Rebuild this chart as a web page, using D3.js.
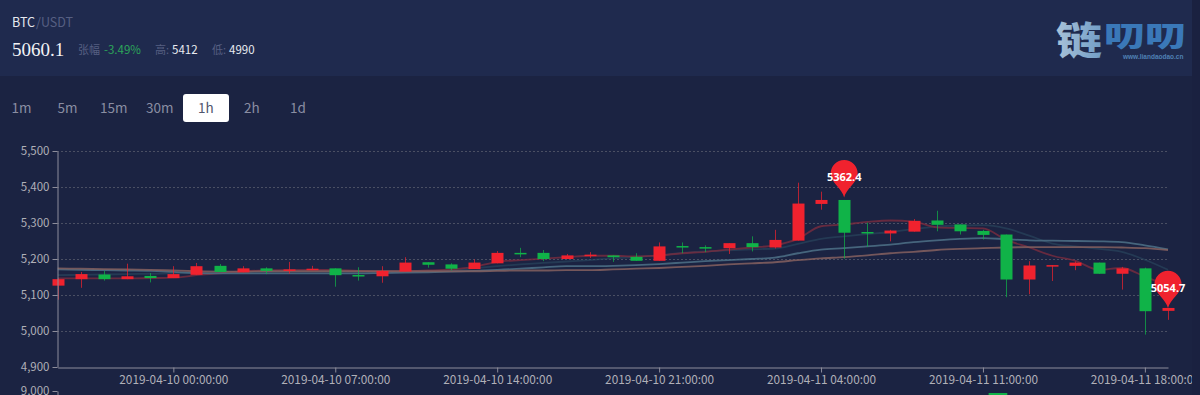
<!DOCTYPE html>
<html>
<head>
<meta charset="utf-8">
<script src="https://cdn.jsdelivr.net/npm/d3@7"></script>
<style>
  html, body { margin: 0; padding: 0; background: #1b2342; overflow: hidden; }
  svg { display: block; }
  text { font-family: "Noto Sans CJK SC", "Noto Sans", sans-serif; }
</style>
</head>
<body>
<div id="chart"></div>
<script>
var hours = [
  "04-09 19", "04-09 20", "04-09 21", "04-09 22", "04-09 23",
  "04-10 00", "04-10 01", "04-10 02", "04-10 03", "04-10 04", "04-10 05", "04-10 06",
  "04-10 07", "04-10 08", "04-10 09", "04-10 10", "04-10 11", "04-10 12", "04-10 13",
  "04-10 14", "04-10 15", "04-10 16", "04-10 17", "04-10 18", "04-10 19", "04-10 20",
  "04-10 21", "04-10 22", "04-10 23", "04-11 00", "04-11 01", "04-11 02", "04-11 03",
  "04-11 04", "04-11 05", "04-11 06", "04-11 07", "04-11 08", "04-11 09", "04-11 10",
  "04-11 11", "04-11 12", "04-11 13", "04-11 14", "04-11 15", "04-11 16", "04-11 17",
  "04-11 18", "04-11 19"
];
var tickHours = ["04-10 00", "04-10 07", "04-10 14", "04-10 21", "04-11 04", "04-11 11", "04-11 18"];
var priceTicks = [4900, 5000, 5100, 5200, 5300, 5400, 5500];
var periods = ["1m", "5m", "15m", "30m", "1h", "2h", "1d"];

var opens = [5126, 5144, 5157, 5144, 5153, 5147, 5156, 5181, 5163, 5174, 5167, 5169, 5174, 5155.5, 5152, 5165, 5191,
  5185, 5172, 5188, 5217, 5217, 5200, 5209, 5210, 5206, 5195, 5236, 5233, 5230, 5244, 5232, 5251, 5353, 5364, 5275,
  5271, 5276, 5307, 5296, 5278, 5268, 5143, 5181, 5181, 5190, 5159, 5174, 5056];
var closes = [5144, 5158, 5144, 5152, 5147, 5158, 5180, 5164, 5174, 5167, 5171, 5173, 5155, 5153.7, 5167, 5190, 5184,
  5173, 5190, 5217, 5215, 5200, 5210, 5212, 5205, 5195, 5235, 5232, 5231, 5244, 5233, 5253, 5354, 5364, 5273, 5272,
  5279, 5306, 5295, 5277, 5267, 5143, 5182, 5183, 5190, 5159, 5174, 5055, 5064];
var lows = [5087, 5120, 5140, 5144, 5135, 5147, 5156, 5164, 5163, 5158, 5159, 5169, 5123, 5140, 5134, 5165, 5176,
  5168, 5172, 5188, 5205, 5194, 5200, 5203, 5192, 5195, 5195, 5216, 5219, 5214, 5221, 5229, 5251, 5337, 5201, 5234,
  5249, 5276, 5277, 5268, 5254, 5094, 5102, 5139, 5169, 5159, 5115, 4990, 5031];
var highs = [5146, 5164, 5167, 5187, 5161, 5180, 5189, 5186, 5180, 5177, 5192, 5181, 5174, 5177, 5180, 5205, 5191,
  5188, 5199, 5222, 5231, 5225, 5214, 5219, 5210, 5216, 5246, 5246, 5238, 5244, 5263, 5281, 5412, 5387, 5364, 5301,
  5281, 5311, 5334, 5296, 5281, 5268, 5194, 5183, 5193, 5190, 5178, 5176, 5064];

var maFast = [5146, 5146, 5146, 5146, 5147, 5148, 5155, 5160, 5166, 5168, 5170, 5170, 5170, 5167, 5166, 5166, 5168,
  5171, 5178, 5192, 5197, 5201, 5205, 5209, 5209, 5207, 5210, 5216, 5220, 5226, 5232, 5238, 5256, 5291, 5296, 5303,
  5307, 5304, 5288, 5286, 5285, 5253, 5232, 5209, 5195, 5170, 5175, 5151, 5125];
var maDark = [5155, 5156, 5157, 5158, 5159, 5160, 5161, 5162, 5163, 5165, 5166, 5166, 5166, 5165, 5165, 5165, 5166,
  5168, 5174, 5180, 5185, 5189, 5193, 5197, 5202, 5206, 5210, 5217, 5221, 5224, 5227, 5229, 5242, 5256, 5263, 5269,
  5275, 5283, 5290, 5293, 5294, 5285, 5265, 5243, 5235, 5228, 5220, 5198, 5170];
var maBlue = [5171, 5170, 5169, 5168, 5167, 5164, 5161, 5160, 5160, 5160, 5160, 5160, 5160, 5160, 5161, 5162, 5163,
  5165, 5167, 5170, 5173, 5177, 5180, 5180, 5181, 5183, 5186, 5190, 5194, 5197, 5200, 5204, 5216, 5226, 5230, 5235,
  5240, 5247, 5252, 5256, 5258, 5255, 5252, 5251, 5250, 5249, 5247, 5238, 5227];
var maBrown = [5174, 5173, 5172, 5171, 5170, 5168, 5166, 5165, 5165, 5166, 5166, 5166, 5166, 5166, 5166, 5166, 5166,
  5166, 5166, 5167, 5168, 5168, 5169, 5169, 5171, 5173, 5175, 5178, 5181, 5185, 5188, 5191, 5197, 5202, 5205, 5210,
  5216, 5220, 5225, 5228, 5230, 5232, 5233, 5233, 5233, 5233, 5232, 5230, 5225];

// pins and the one volume bar tall enough to show above the fold
var pinHours = ["04-11 05", "04-11 19"];
var pinValues = [5362.4, 5054.7];
var volumeHours = ["04-11 12"];
var volumeValues = [8700];

var red = "#f0222e";
var green = "#10b348";
var axisColor = "#8d8d9b";
var labelColor = "#b0b0b8";

var svg = d3.select("#chart").append("svg").attr("width", 1200).attr("height", 395);

// header band
svg.append("rect").attr("width", 1192).attr("height", 76).attr("fill", "#1f2a4e");

var defs = svg.append("defs");
var logoFill = defs.append("linearGradient").attr("id", "logoFill").attr("gradientUnits", "userSpaceOnUse")
  .attr("x1", 1056).attr("x2", 1104).attr("y1", 0).attr("y2", 0);
logoFill.append("stop").attr("offset", "0%").attr("stop-color", "#a9c2d8");
logoFill.append("stop").attr("offset", "100%").attr("stop-color", "#6f9cc6");

svg.append("text").attr("x", 1056).attr("y", 54).attr("font-size", 38).attr("font-weight", 900)
  .attr("textLength", 46).attr("lengthAdjust", "spacingAndGlyphs")
  .attr("fill", "url(#logoFill)").text("链");
svg.append("text").attr("x", 1104).attr("y", 47).attr("font-size", 29).attr("font-weight", 900)
  .attr("textLength", 82).attr("lengthAdjust", "spacingAndGlyphs")
  .attr("fill", "#3a78b8").text("叨叨");
svg.append("text").attr("x", 1123).attr("y", 59).attr("font-size", 6.5).attr("font-weight", 700)
  .attr("fill", "#4f80b4").style("font-family", "Liberation Sans").text("www.liandaodao.cn");

function headerText(x, y, size, color, str, family) {
  var t = svg.append("text").attr("x", x).attr("y", y).attr("font-size", size).attr("fill", color).text(str);
  if (family) t.style("font-family", family);
  return t;
}
headerText(12, 27, 12.5, "#e6e8ee", "BTC");
headerText(36, 27, 12.5, "#565f82", "/USDT");
headerText(12, 56, 19, "#f2f3f6", "5060.1", "Liberation Serif");
headerText(78, 54, 11, "#565f82", "张幅");
headerText(104, 54, 11.5, "#2ca55a", "-3.49%");
headerText(155, 54, 11, "#565f82", "高:");
headerText(172, 54, 11.5, "#e8eaf0", "5412");
headerText(212, 54, 11, "#565f82", "低:");
headerText(229, 54, 11.5, "#e8eaf0", "4990");

// period buttons
var periodX = d3.scalePoint().domain(periods).range([21.5, 298]);
svg.append("rect").attr("x", 183).attr("y", 94).attr("width", 46).attr("height", 28)
  .attr("rx", 3).attr("fill", "#ffffff");
svg.selectAll(".period").data(periods).enter().append("text")
  .attr("class", "period")
  .attr("x", function(d) { return periodX(d); })
  .attr("y", 113)
  .attr("text-anchor", "middle")
  .attr("font-size", 13.5)
  .attr("fill", function(d) { return d == "1h" ? "#50566e" : "#8a8ea2"; })
  .text(function(d) { return d; });

var x = d3.scalePoint().domain(hours).range([57.7, 1168]);
var xVolume = d3.scaleBand().domain(hours).range([57, 1168]);
var y = d3.scaleLinear().domain([4900, 5500]).range([367, 151]);
var yVolume = d3.scaleLinear().domain([0, 9000]).range([451, 391]);

// grid
svg.append("g").selectAll("line").data(priceTicks.slice(1)).enter().append("line")
  .attr("x1", 57).attr("x2", 1168)
  .attr("y1", function(d) { return Math.round(y(d)) + 0.5; })
  .attr("y2", function(d) { return Math.round(y(d)) + 0.5; })
  .attr("stroke", "#4a4f63").attr("stroke-dasharray", "2,2");

// moving averages
var line = d3.line()
  .x(function(d, i) { return x(hours[i]); })
  .y(function(d) { return y(d); })
  .curve(d3.curveMonotoneX);

var maLines = [
  { values: maDark, color: "#2b4a60", opacity: 0.6 },
  { values: maFast, color: "#7a2c3e", opacity: 0.8 },
  { values: maBlue, color: "#4d7187", opacity: 0.85 },
  { values: maBrown, color: "#85605f", opacity: 0.85 }
];
svg.append("g").selectAll("path").data(maLines).enter().append("path")
  .attr("fill", "none")
  .attr("stroke", function(d) { return d.color; })
  .attr("stroke-opacity", function(d) { return d.opacity; })
  .attr("stroke-width", 1.8)
  .attr("d", function(d) { return line(d.values); });

// candles
var candles = svg.append("g").selectAll("g").data(hours).enter().append("g");
function candleColor(d, i) { return closes[i] >= opens[i] ? red : green; }

candles.append("line")
  .attr("x1", function(d) { return Math.round(x(d)) + 0.5; })
  .attr("x2", function(d) { return Math.round(x(d)) + 0.5; })
  .attr("y1", function(d, i) { return y(highs[i]); })
  .attr("y2", function(d, i) { return y(lows[i]); })
  .attr("stroke", candleColor)
  .attr("stroke-opacity", 0.72);

candles.append("rect")
  .attr("x", function(d) { return Math.round(x(d)) - 5.5; })
  .attr("width", 12)
  .attr("y", function(d, i) { return y(Math.max(opens[i], closes[i])); })
  .attr("height", function(d, i) { return Math.max(1.5, Math.abs(y(opens[i]) - y(closes[i]))); })
  .attr("fill", candleColor);

// axes
var yAxis = svg.append("g").attr("transform", "translate(57.5,0)")
  .call(d3.axisLeft(y).tickValues(priceTicks).tickFormat(d3.format(",")).tickSize(5).tickSizeOuter(0).tickPadding(3));
var xAxis = svg.append("g").attr("transform", "translate(0,367.5)")
  .call(d3.axisBottom(x).tickValues(tickHours).tickSize(5).tickSizeOuter(0).tickPadding(3)
    .tickFormat(function(d) { return "2019-" + d + ":00:00"; }));
var yAxisVolume = svg.append("g").attr("transform", "translate(57.5,0)")
  .call(d3.axisLeft(yVolume).tickValues([9000]).tickFormat(d3.format(",")).tickSize(5).tickSizeOuter(0).tickPadding(3));

[yAxis, xAxis, yAxisVolume].forEach(function(axis) {
  axis.selectAll(".domain").attr("stroke", axisColor);
  axis.selectAll(".tick line").attr("stroke", axisColor);
  axis.selectAll("text").attr("fill", labelColor).attr("font-size", 11.5)
    .style("font-family", "Noto Sans CJK SC");
});
xAxis.selectAll("text").attr("font-size", 11.8);

// volume
svg.append("g").selectAll("rect").data(volumeHours).enter().append("rect")
  .attr("x", function(d) { return xVolume(d) + 2; })
  .attr("width", xVolume.bandwidth() - 4)
  .attr("y", function(d, i) { return yVolume(volumeValues[i]); })
  .attr("height", function(d, i) { return yVolume(0) - yVolume(volumeValues[i]); })
  .attr("fill", green);

// pins
function pinPath(tipX, tipY) {
  var r = 13.5, cy = tipY - 24, p = d3.path();
  p.moveTo(tipX, tipY);
  p.bezierCurveTo(tipX - 2, cy + 15, tipX - r, cy + 9, tipX - r, cy);
  p.arc(tipX, cy, r, Math.PI, 0);
  p.bezierCurveTo(tipX + r, cy + 9, tipX + 2, cy + 15, tipX, tipY);
  p.closePath();
  return p.toString();
}
var pins = svg.append("g").selectAll("g").data(pinHours).enter().append("g");
pins.append("path")
  .attr("fill", red)
  .attr("d", function(d, i) { return pinPath(x(d), y(pinValues[i]) - 3); });
pins.append("text")
  .attr("x", function(d) { return x(d); })
  .attr("y", function(d, i) { return y(pinValues[i]) - 19.5; })
  .attr("text-anchor", "middle")
  .attr("font-size", 11)
  .attr("font-weight", 700)
  .attr("fill", "#ffffff")
  .style("font-family", "Noto Sans")
  .text(function(d, i) { return pinValues[i]; });

// dark strip on the right edge, cuts the last date label
svg.append("rect").attr("x", 1192).attr("width", 8).attr("height", 395).attr("fill", "#1a2140");
</script>
</body>
</html>
